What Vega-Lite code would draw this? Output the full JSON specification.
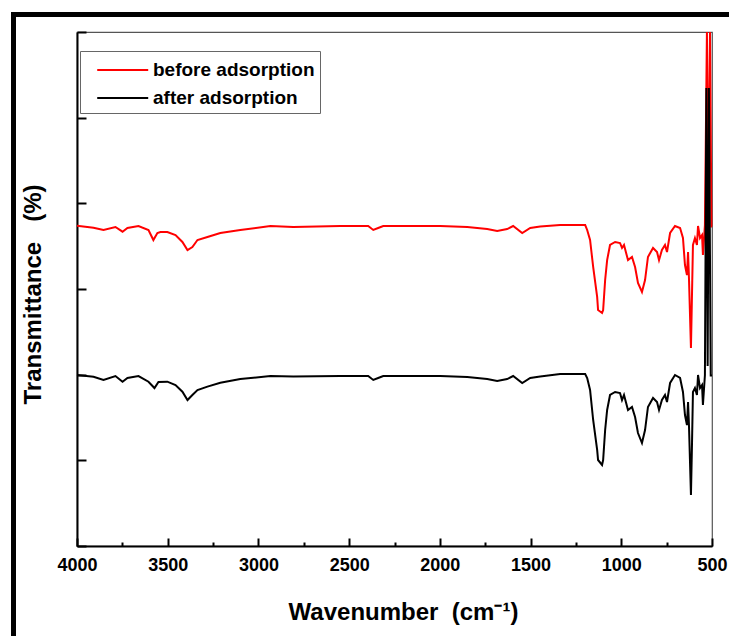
{
  "$schema": "https://vega.github.io/schema/vega-lite/v6.json",
  "width": 635,
  "height": 514,
  "autosize": "none",
  "padding": {"left": 77, "top": 32, "right": 17, "bottom": 90},
  "background": "white",
  "config": {
    "view": {"stroke": "#555555", "strokeWidth": 1.2},
    "font": "Liberation Sans"
  },
  "layer": [
    {
      "data": {"values": [{}]},
      "mark": {"type": "rect", "filled": false, "stroke": "black", "strokeWidth": 5, "clip": false},
      "encoding": {
        "x": {"datum": 4350, "type": "quantitative", "scale": {"domain": [4000, 500], "nice": false, "zero": false},
          "axis": {"orient": "bottom", "values": [3750, 3250, 2750, 2250, 1750, 1250, 750], "tickSize": -4, "tickWidth": 2, "tickColor": "black", "labels": false, "domain": false, "grid": false, "title": null}},
        "x2": {"datum": 300},
        "y": {"datum": 6.204, "type": "quantitative", "scale": {"domain": [0, 6], "nice": false, "zero": false},
          "axis": {"orient": "left", "values": [0, 1, 2, 3, 4, 5, 6], "tickSize": -9, "tickWidth": 2, "tickColor": "black", "domainColor": "black", "domainWidth": 2, "labels": false, "grid": false,
            "title": "Transmittance\u00a0\u00a0\u00a0(%)", "titleFont": "Liberation Sans", "titleFontSize": 24, "titleFontWeight": "bold", "titleColor": "black", "titleX": -44, "titleY": 262, "titleAngle": -90, "titleBaseline": "middle", "titleAlign": "center"}},
        "y2": {"datum": -1.5}
      }
    },
    {
      "data": {"values": [
        {"wavenumber": 4000, "transmittance": 3.739, "series": "before adsorption"},
        {"wavenumber": 3909, "transmittance": 3.716, "series": "before adsorption"},
        {"wavenumber": 3854, "transmittance": 3.689, "series": "before adsorption"},
        {"wavenumber": 3788, "transmittance": 3.724, "series": "before adsorption"},
        {"wavenumber": 3749, "transmittance": 3.669, "series": "before adsorption"},
        {"wavenumber": 3722, "transmittance": 3.712, "series": "before adsorption"},
        {"wavenumber": 3661, "transmittance": 3.735, "series": "before adsorption"},
        {"wavenumber": 3606, "transmittance": 3.689, "series": "before adsorption"},
        {"wavenumber": 3579, "transmittance": 3.572, "series": "before adsorption"},
        {"wavenumber": 3557, "transmittance": 3.654, "series": "before adsorption"},
        {"wavenumber": 3540, "transmittance": 3.665, "series": "before adsorption"},
        {"wavenumber": 3502, "transmittance": 3.665, "series": "before adsorption"},
        {"wavenumber": 3457, "transmittance": 3.630, "series": "before adsorption"},
        {"wavenumber": 3419, "transmittance": 3.549, "series": "before adsorption"},
        {"wavenumber": 3391, "transmittance": 3.455, "series": "before adsorption"},
        {"wavenumber": 3364, "transmittance": 3.490, "series": "before adsorption"},
        {"wavenumber": 3336, "transmittance": 3.572, "series": "before adsorption"},
        {"wavenumber": 3281, "transmittance": 3.607, "series": "before adsorption"},
        {"wavenumber": 3210, "transmittance": 3.654, "series": "before adsorption"},
        {"wavenumber": 3100, "transmittance": 3.689, "series": "before adsorption"},
        {"wavenumber": 2934, "transmittance": 3.735, "series": "before adsorption"},
        {"wavenumber": 2808, "transmittance": 3.724, "series": "before adsorption"},
        {"wavenumber": 2549, "transmittance": 3.735, "series": "before adsorption"},
        {"wavenumber": 2395, "transmittance": 3.735, "series": "before adsorption"},
        {"wavenumber": 2367, "transmittance": 3.689, "series": "before adsorption"},
        {"wavenumber": 2340, "transmittance": 3.712, "series": "before adsorption"},
        {"wavenumber": 2312, "transmittance": 3.735, "series": "before adsorption"},
        {"wavenumber": 1998, "transmittance": 3.735, "series": "before adsorption"},
        {"wavenumber": 1849, "transmittance": 3.724, "series": "before adsorption"},
        {"wavenumber": 1739, "transmittance": 3.700, "series": "before adsorption"},
        {"wavenumber": 1684, "transmittance": 3.677, "series": "before adsorption"},
        {"wavenumber": 1629, "transmittance": 3.700, "series": "before adsorption"},
        {"wavenumber": 1596, "transmittance": 3.735, "series": "before adsorption"},
        {"wavenumber": 1546, "transmittance": 3.654, "series": "before adsorption"},
        {"wavenumber": 1502, "transmittance": 3.712, "series": "before adsorption"},
        {"wavenumber": 1447, "transmittance": 3.730, "series": "before adsorption"},
        {"wavenumber": 1337, "transmittance": 3.747, "series": "before adsorption"},
        {"wavenumber": 1266, "transmittance": 3.747, "series": "before adsorption"},
        {"wavenumber": 1199, "transmittance": 3.747, "series": "before adsorption"},
        {"wavenumber": 1188, "transmittance": 3.689, "series": "before adsorption"},
        {"wavenumber": 1172, "transmittance": 3.572, "series": "before adsorption"},
        {"wavenumber": 1155, "transmittance": 3.257, "series": "before adsorption"},
        {"wavenumber": 1133, "transmittance": 2.907, "series": "before adsorption"},
        {"wavenumber": 1128, "transmittance": 2.755, "series": "before adsorption"},
        {"wavenumber": 1106, "transmittance": 2.720, "series": "before adsorption"},
        {"wavenumber": 1100, "transmittance": 2.755, "series": "before adsorption"},
        {"wavenumber": 1089, "transmittance": 3.105, "series": "before adsorption"},
        {"wavenumber": 1078, "transmittance": 3.338, "series": "before adsorption"},
        {"wavenumber": 1062, "transmittance": 3.514, "series": "before adsorption"},
        {"wavenumber": 1034, "transmittance": 3.549, "series": "before adsorption"},
        {"wavenumber": 1007, "transmittance": 3.537, "series": "before adsorption"},
        {"wavenumber": 996, "transmittance": 3.479, "series": "before adsorption"},
        {"wavenumber": 985, "transmittance": 3.514, "series": "before adsorption"},
        {"wavenumber": 963, "transmittance": 3.338, "series": "before adsorption"},
        {"wavenumber": 941, "transmittance": 3.374, "series": "before adsorption"},
        {"wavenumber": 924, "transmittance": 3.257, "series": "before adsorption"},
        {"wavenumber": 908, "transmittance": 3.070, "series": "before adsorption"},
        {"wavenumber": 886, "transmittance": 2.965, "series": "before adsorption"},
        {"wavenumber": 869, "transmittance": 3.105, "series": "before adsorption"},
        {"wavenumber": 853, "transmittance": 3.374, "series": "before adsorption"},
        {"wavenumber": 825, "transmittance": 3.479, "series": "before adsorption"},
        {"wavenumber": 803, "transmittance": 3.432, "series": "before adsorption"},
        {"wavenumber": 792, "transmittance": 3.338, "series": "before adsorption"},
        {"wavenumber": 776, "transmittance": 3.455, "series": "before adsorption"},
        {"wavenumber": 759, "transmittance": 3.514, "series": "before adsorption"},
        {"wavenumber": 748, "transmittance": 3.432, "series": "before adsorption"},
        {"wavenumber": 731, "transmittance": 3.654, "series": "before adsorption"},
        {"wavenumber": 704, "transmittance": 3.735, "series": "before adsorption"},
        {"wavenumber": 676, "transmittance": 3.712, "series": "before adsorption"},
        {"wavenumber": 660, "transmittance": 3.595, "series": "before adsorption"},
        {"wavenumber": 649, "transmittance": 3.280, "series": "before adsorption"},
        {"wavenumber": 638, "transmittance": 3.163, "series": "before adsorption"},
        {"wavenumber": 632, "transmittance": 3.432, "series": "before adsorption"},
        {"wavenumber": 627, "transmittance": 3.128, "series": "before adsorption"},
        {"wavenumber": 616, "transmittance": 2.311, "series": "before adsorption"},
        {"wavenumber": 610, "transmittance": 2.965, "series": "before adsorption"},
        {"wavenumber": 605, "transmittance": 3.514, "series": "before adsorption"},
        {"wavenumber": 594, "transmittance": 3.595, "series": "before adsorption"},
        {"wavenumber": 583, "transmittance": 3.514, "series": "before adsorption"},
        {"wavenumber": 577, "transmittance": 3.735, "series": "before adsorption"},
        {"wavenumber": 566, "transmittance": 3.595, "series": "before adsorption"},
        {"wavenumber": 555, "transmittance": 3.630, "series": "before adsorption"},
        {"wavenumber": 550, "transmittance": 3.397, "series": "before adsorption"},
        {"wavenumber": 539, "transmittance": 3.747, "series": "before adsorption"},
        {"wavenumber": 528, "transmittance": 6.000, "series": "before adsorption"},
        {"wavenumber": 520, "transmittance": 4.000, "series": "before adsorption"},
        {"wavenumber": 511, "transmittance": 6.000, "series": "before adsorption"},
        {"wavenumber": 503, "transmittance": 3.730, "series": "before adsorption"},
        {"wavenumber": 500, "transmittance": 3.730, "series": "before adsorption"},
        {"wavenumber": 4000, "transmittance": 1.996, "series": "after adsorption"},
        {"wavenumber": 3909, "transmittance": 1.976, "series": "after adsorption"},
        {"wavenumber": 3854, "transmittance": 1.938, "series": "after adsorption"},
        {"wavenumber": 3788, "transmittance": 1.984, "series": "after adsorption"},
        {"wavenumber": 3749, "transmittance": 1.918, "series": "after adsorption"},
        {"wavenumber": 3722, "transmittance": 1.961, "series": "after adsorption"},
        {"wavenumber": 3661, "transmittance": 1.984, "series": "after adsorption"},
        {"wavenumber": 3606, "transmittance": 1.918, "series": "after adsorption"},
        {"wavenumber": 3573, "transmittance": 1.844, "series": "after adsorption"},
        {"wavenumber": 3551, "transmittance": 1.914, "series": "after adsorption"},
        {"wavenumber": 3502, "transmittance": 1.918, "series": "after adsorption"},
        {"wavenumber": 3457, "transmittance": 1.879, "series": "after adsorption"},
        {"wavenumber": 3419, "transmittance": 1.801, "series": "after adsorption"},
        {"wavenumber": 3391, "transmittance": 1.704, "series": "after adsorption"},
        {"wavenumber": 3364, "transmittance": 1.763, "series": "after adsorption"},
        {"wavenumber": 3336, "transmittance": 1.821, "series": "after adsorption"},
        {"wavenumber": 3281, "transmittance": 1.860, "series": "after adsorption"},
        {"wavenumber": 3210, "transmittance": 1.906, "series": "after adsorption"},
        {"wavenumber": 3100, "transmittance": 1.949, "series": "after adsorption"},
        {"wavenumber": 2934, "transmittance": 1.984, "series": "after adsorption"},
        {"wavenumber": 2808, "transmittance": 1.979, "series": "after adsorption"},
        {"wavenumber": 2549, "transmittance": 1.984, "series": "after adsorption"},
        {"wavenumber": 2395, "transmittance": 1.984, "series": "after adsorption"},
        {"wavenumber": 2367, "transmittance": 1.938, "series": "after adsorption"},
        {"wavenumber": 2340, "transmittance": 1.961, "series": "after adsorption"},
        {"wavenumber": 2312, "transmittance": 1.984, "series": "after adsorption"},
        {"wavenumber": 1998, "transmittance": 1.984, "series": "after adsorption"},
        {"wavenumber": 1849, "transmittance": 1.973, "series": "after adsorption"},
        {"wavenumber": 1739, "transmittance": 1.949, "series": "after adsorption"},
        {"wavenumber": 1684, "transmittance": 1.926, "series": "after adsorption"},
        {"wavenumber": 1629, "transmittance": 1.949, "series": "after adsorption"},
        {"wavenumber": 1596, "transmittance": 1.984, "series": "after adsorption"},
        {"wavenumber": 1546, "transmittance": 1.903, "series": "after adsorption"},
        {"wavenumber": 1502, "transmittance": 1.961, "series": "after adsorption"},
        {"wavenumber": 1447, "transmittance": 1.979, "series": "after adsorption"},
        {"wavenumber": 1337, "transmittance": 2.008, "series": "after adsorption"},
        {"wavenumber": 1266, "transmittance": 2.008, "series": "after adsorption"},
        {"wavenumber": 1199, "transmittance": 2.008, "series": "after adsorption"},
        {"wavenumber": 1188, "transmittance": 1.961, "series": "after adsorption"},
        {"wavenumber": 1172, "transmittance": 1.821, "series": "after adsorption"},
        {"wavenumber": 1155, "transmittance": 1.471, "series": "after adsorption"},
        {"wavenumber": 1133, "transmittance": 1.121, "series": "after adsorption"},
        {"wavenumber": 1128, "transmittance": 1.004, "series": "after adsorption"},
        {"wavenumber": 1106, "transmittance": 0.946, "series": "after adsorption"},
        {"wavenumber": 1100, "transmittance": 1.004, "series": "after adsorption"},
        {"wavenumber": 1089, "transmittance": 1.354, "series": "after adsorption"},
        {"wavenumber": 1078, "transmittance": 1.588, "series": "after adsorption"},
        {"wavenumber": 1062, "transmittance": 1.763, "series": "after adsorption"},
        {"wavenumber": 1034, "transmittance": 1.798, "series": "after adsorption"},
        {"wavenumber": 1007, "transmittance": 1.786, "series": "after adsorption"},
        {"wavenumber": 996, "transmittance": 1.704, "series": "after adsorption"},
        {"wavenumber": 985, "transmittance": 1.763, "series": "after adsorption"},
        {"wavenumber": 963, "transmittance": 1.588, "series": "after adsorption"},
        {"wavenumber": 941, "transmittance": 1.623, "series": "after adsorption"},
        {"wavenumber": 924, "transmittance": 1.506, "series": "after adsorption"},
        {"wavenumber": 908, "transmittance": 1.319, "series": "after adsorption"},
        {"wavenumber": 886, "transmittance": 1.202, "series": "after adsorption"},
        {"wavenumber": 869, "transmittance": 1.354, "series": "after adsorption"},
        {"wavenumber": 853, "transmittance": 1.623, "series": "after adsorption"},
        {"wavenumber": 825, "transmittance": 1.728, "series": "after adsorption"},
        {"wavenumber": 803, "transmittance": 1.681, "series": "after adsorption"},
        {"wavenumber": 792, "transmittance": 1.588, "series": "after adsorption"},
        {"wavenumber": 776, "transmittance": 1.704, "series": "after adsorption"},
        {"wavenumber": 759, "transmittance": 1.763, "series": "after adsorption"},
        {"wavenumber": 748, "transmittance": 1.681, "series": "after adsorption"},
        {"wavenumber": 731, "transmittance": 1.903, "series": "after adsorption"},
        {"wavenumber": 704, "transmittance": 1.996, "series": "after adsorption"},
        {"wavenumber": 676, "transmittance": 1.961, "series": "after adsorption"},
        {"wavenumber": 660, "transmittance": 1.798, "series": "after adsorption"},
        {"wavenumber": 649, "transmittance": 1.529, "series": "after adsorption"},
        {"wavenumber": 638, "transmittance": 1.412, "series": "after adsorption"},
        {"wavenumber": 632, "transmittance": 1.681, "series": "after adsorption"},
        {"wavenumber": 627, "transmittance": 1.412, "series": "after adsorption"},
        {"wavenumber": 616, "transmittance": 0.595, "series": "after adsorption"},
        {"wavenumber": 610, "transmittance": 1.214, "series": "after adsorption"},
        {"wavenumber": 605, "transmittance": 1.798, "series": "after adsorption"},
        {"wavenumber": 594, "transmittance": 1.844, "series": "after adsorption"},
        {"wavenumber": 583, "transmittance": 1.763, "series": "after adsorption"},
        {"wavenumber": 577, "transmittance": 1.996, "series": "after adsorption"},
        {"wavenumber": 566, "transmittance": 1.844, "series": "after adsorption"},
        {"wavenumber": 555, "transmittance": 1.879, "series": "after adsorption"},
        {"wavenumber": 550, "transmittance": 1.646, "series": "after adsorption"},
        {"wavenumber": 539, "transmittance": 1.996, "series": "after adsorption"},
        {"wavenumber": 531, "transmittance": 5.346, "series": "after adsorption"},
        {"wavenumber": 524, "transmittance": 2.100, "series": "after adsorption"},
        {"wavenumber": 517, "transmittance": 5.346, "series": "after adsorption"},
        {"wavenumber": 507, "transmittance": 1.990, "series": "after adsorption"},
        {"wavenumber": 500, "transmittance": 1.990, "series": "after adsorption"}
      ]},
      "mark": {"type": "line", "strokeWidth": 2},
      "encoding": {
        "x": {"field": "wavenumber", "type": "quantitative", "scale": {"domain": [4000, 500], "nice": false, "zero": false},
          "axis": {"orient": "bottom", "values": [4000, 3500, 3000, 2500, 2000, 1500, 1000, 500], "format": "d", "ticks": true, "tickSize": -8, "tickWidth": 2, "tickColor": "black", "domainColor": "black", "domainWidth": 2, "grid": false,
            "labelFont": "Liberation Sans", "labelFontSize": 18, "labelFontWeight": "bold", "labelColor": "black", "labelPadding": 18, "labelBaseline": "top", "labelFlush": false, "labelOverlap": false,
            "title": "Wavenumber\u00a0\u00a0(cm⁻¹)", "titleFont": "Liberation Sans", "titleFontSize": 24, "titleFontWeight": "bold", "titleColor": "black", "titleX": 326, "titleY": 66, "titleBaseline": "middle", "titleAlign": "center"}},
        "y": {"field": "transmittance", "type": "quantitative", "scale": {"domain": [0, 6], "nice": false, "zero": false},
          "axis": {"orient": "left", "values": [0, 1, 2, 3, 4, 5, 6], "tickSize": -9, "tickWidth": 2, "tickColor": "black", "domainColor": "black", "domainWidth": 2, "labels": false, "grid": false,
            "title": "Transmittance\u00a0\u00a0\u00a0(%)", "titleFont": "Liberation Sans", "titleFontSize": 24, "titleFontWeight": "bold", "titleColor": "black", "titleX": -44, "titleY": 262, "titleAngle": -90, "titleBaseline": "middle", "titleAlign": "center"}},
        "color": {"field": "series", "type": "nominal",
          "scale": {"domain": ["before adsorption", "after adsorption"], "range": ["#ff0000", "#000000"]},
          "legend": {"orient": "none", "legendX": 3, "legendY": 19, "title": null, "symbolType": "M-0.14,0H3.86", "symbolSize": 650, "symbolStrokeWidth": 2,
            "labelFont": "Liberation Sans", "labelFontSize": 19, "labelFontWeight": "bold", "labelColor": "black", "labelOffset": 40, "labelLimit": 400,
            "strokeColor": "#666666", "padding": 5, "rowPadding": 4}},
        "order": {"field": "wavenumber", "type": "quantitative"}
      }
    }
  ],
  "resolve": {"axis": {"x": "independent"}}
}
